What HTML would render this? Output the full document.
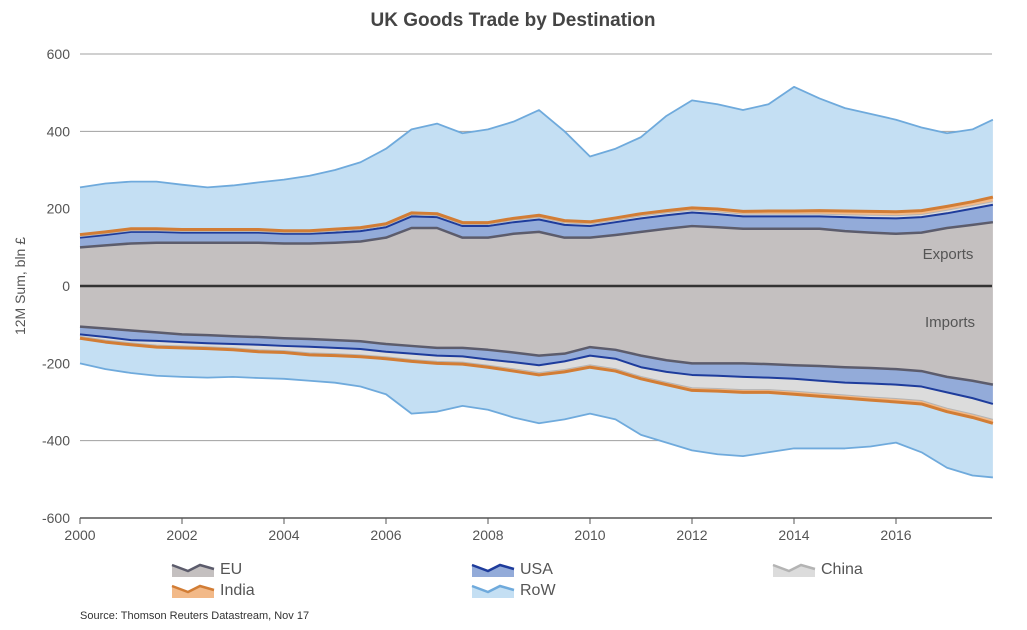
<!DOCTYPE html>
<html><head><meta charset="utf-8"><style>
body{margin:0;background:#fff;font-family:"Liberation Sans",Arial,sans-serif}
svg text{font-family:"Liberation Sans",Arial,sans-serif}
</style></head><body>
<svg id="chart" width="1027" height="625" viewBox="0 0 1027 625">
<text x="513" y="26" text-anchor="middle" font-size="19" font-weight="bold" fill="#444">UK Goods Trade by Destination</text>
<g id="grid"></g>
<g id="areas"></g>
<g id="axes"></g>
<text transform="translate(25,286) rotate(-90)" text-anchor="middle" font-size="14" fill="#555">12M Sum, bln £</text>
<text x="948" y="259" text-anchor="middle" font-size="15" fill="#555">Exports</text>
<text x="950" y="327" text-anchor="middle" font-size="15" fill="#555">Imports</text>
<g id="legend"></g>
<text x="80" y="619" font-size="11" fill="#333">Source: Thomson Reuters Datastream, Nov 17</text>
</svg>
<script>
const dates=[2000,2000.5,2001,2001.5,2002,2002.5,2003,2003.5,2004,2004.5,2005,2005.5,2006,2006.5,2007,2007.5,2008,2008.5,2009,2009.5,2010,2010.5,2011,2011.5,2012,2012.5,2013,2013.5,2014,2014.5,2015,2015.5,2016,2016.5,2017,2017.5,2017.9];
const expEU=[100,105,110,112,112,112,112,112,110,110,112,115,125,150,150,125,125,135,140,125,125,132,140,148,155,152,148,148,148,148,142,138,135,138,150,158,165];
const expUSA=[25,27,30,28,26,26,26,26,25,25,26,27,27,30,28,30,30,30,32,33,30,33,35,35,35,34,32,32,32,32,36,38,40,40,38,42,45];
const expChina=[3,3,3,3,3,3,3,3,3,3,4,4,4,4,4,4,4,5,5,5,5,5,6,6,6,6,6,6,6,6,6,7,7,7,8,8,8];
const expIndia=[5,5,5,5,5,5,5,5,5,5,5,5,5,5,5,5,5,5,6,6,6,6,6,6,6,7,7,8,8,9,10,10,10,10,10,10,12];
const expRoW=[122,125,122,122,116,109,114,122,132,142,153,169,194,216,233,231,241,250,272,231,169,179,198,245,278,271,262,276,321,290,266,252,238,215,189,187,200];
const impEU=[105,110,115,120,125,127,130,132,135,137,140,143,150,155,160,160,165,172,180,175,158,165,180,192,200,200,200,202,205,207,210,212,215,220,235,245,255];
const impUSA=[20,22,25,22,20,21,20,20,20,20,20,20,20,20,20,22,25,25,25,20,22,23,30,30,30,32,35,35,35,38,40,40,40,40,40,45,50];
const impChina=[5,8,7,11,10,9,10,13,12,16,15,15,13,15,15,15,15,17,19,21,24,26,24,27,33,33,33,31,32,32,32,35,36,36,41,41,40];
const impIndia=[5,5,5,5,5,5,5,5,5,5,5,5,5,5,5,5,5,6,6,6,6,6,6,6,7,7,7,7,8,8,8,8,9,9,9,9,10];
const impRoW=[65,70,73,74,75,75,70,68,68,67,70,77,92,135,125,108,110,120,125,123,120,125,145,150,155,163,165,155,140,135,130,120,105,125,145,150,140];
const yTicks=[600,400,200,0,-200,-400,-600];
const xTicks=[2000,2002,2004,2006,2008,2010,2012,2014,2016];
const names=['EU','USA','China','India','RoW'];
const NS='http://www.w3.org/2000/svg';
const X=t=>80+(t-2000)*51;
const Y=v=>286-v*0.3867;
const fills=['#c4c0c0','#93abd9','#dcdcdc','#f2b988','#c4dff3'];
const strokes=['#5c5c6c','#1e3c9c','#b4b4b4','#d27d35','#6faadc'];
const widths=[2.5,2,1,3,1.8];
function mk(tag,attrs,parent){const e=document.createElementNS(NS,tag);for(const k in attrs)e.setAttribute(k,attrs[k]);parent.appendChild(e);return e;}
const grid=document.getElementById('grid'),areas=document.getElementById('areas'),axes=document.getElementById('axes'),legend=document.getElementById('legend');
yTicks.forEach(v=>{
 if(v!==0&&v!==-600){const l=mk('line',{x1:80,x2:992,y1:Y(v),y2:Y(v),stroke:'#a0a0a0','stroke-width':1},grid);
 
 }
 const t=mk('text',{x:70,y:Y(v)+5,'text-anchor':'end','font-size':14,fill:'#555'},axes);t.textContent=v;
 
 
});
function drawStack(series,sign,tag){
 let base=dates.map(()=>0);
 series.forEach((s,i)=>{
  const top=base.map((b,j)=>b+s[j]);
  let d='M'+dates.map((t,j)=>X(t)+','+Y(sign*top[j])).join('L');
  d+='L'+dates.slice().reverse().map((t,j)=>X(t)+','+Y(sign*base[base.length-1-j])).join('L')+'Z';
  const a=mk('path',{d:d,fill:fills[i],stroke:'none'},areas);
  
  
  base=top;
 });
 base=dates.map(()=>0);
 series.forEach((s,i)=>{
  const top=base.map((b,j)=>b+s[j]);
  const l=mk('path',{d:'M'+dates.map((t,j)=>X(t)+','+Y(sign*top[j])).join('L'),fill:'none',stroke:strokes[i],'stroke-width':widths[i],'stroke-linejoin':'round'},areas);
  
  
  base=top;
 });
}
drawStack([expEU,expUSA,expChina,expIndia,expRoW],1,'exports');
drawStack([impEU,impUSA,impChina,impIndia,impRoW],-1,'imports');
const z=mk('line',{x1:80,x2:992,y1:Y(0),y2:Y(0),stroke:'#333','stroke-width':2.5},axes);


const xa=mk('line',{x1:80,x2:992,y1:Y(-600),y2:Y(-600),stroke:'#555','stroke-width':1.5},axes);


xTicks.forEach(v=>{
 const tk=mk('line',{x1:X(v),x2:X(v),y1:Y(-600),y2:Y(-600)+6,stroke:'#555'},axes);
 
 
 const t=mk('text',{x:X(v),y:Y(-600)+22,'text-anchor':'middle','font-size':14,fill:'#555'},axes);t.textContent=v;
 
 
});
const legPos=[[172,568],[472,568],[773,568],[172,589],[472,589]];
names.forEach((n,i)=>{
 const [lx,ly]=legPos[i];
 const g=mk('g',{transform:'translate('+lx+','+ly+')'},legend);
 
 
 mk('path',{d:'M0,-3L16,3L28,-3L42,1L42,9L0,9Z',fill:fills[i]},g);
 mk('path',{d:'M0,-3L16,3L28,-3L42,1',fill:'none',stroke:strokes[i],'stroke-width':2.5},g);
 const t=mk('text',{x:48,y:6,'font-size':16,fill:'#555'},g);t.textContent=n;
});
</script>
</body></html>
